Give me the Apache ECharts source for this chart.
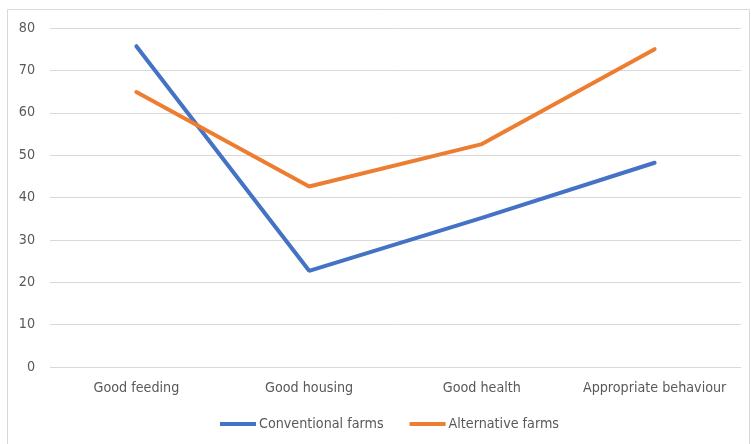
<!DOCTYPE html>
<html>
<head>
<meta charset="utf-8">
<script src="https://cdn.jsdelivr.net/npm/echarts@6/dist/echarts.min.js"></script>
<style>
  html, body { margin: 0; padding: 0; background: #fff; }
  #chart { width: 751px; height: 444px; }
</style>
</head>
<body>
<div id="chart"></div>
<script>
var categories = ['Good feeding', 'Good housing', 'Good health', 'Appropriate behaviour'];
var conventional = [75.7, 22.7, 35.2, 48.2];
var alternative = [64.9, 42.6, 52.6, 75.0];
var yTicks = { min: 0, max: 80, step: 10 };

var fontFam = '"Liberation Sans Narrow", "DejaVu Sans Condensed", sans-serif';

var myChart = echarts.init(document.getElementById('chart'));
var option = {
    backgroundColor: '#ffffff',
    animation: false,
    graphic: [{
        type: 'rect',
        shape: { x: 7.5, y: 9.5, width: 742, height: 440 },
        style: { fill: 'none', stroke: '#d9d9d9', lineWidth: 1 },
        silent: true
    }],
    grid: { left: 50, right: 10, top: 28, bottom: 77 },
    legend: {
        left: 215,
        top: 412,
        icon: 'rect',
        itemWidth: 36,
        itemHeight: 4,
        itemGap: 26,
        textStyle: { color: '#595959', fontSize: 14.2, fontFamily: fontFam, padding: [0, 0, 0, -2] },
        data: ['Conventional farms', 'Alternative farms']
    },
    xAxis: {
        type: 'category',
        data: categories,
        axisLine: { show: false },
        axisTick: { show: false },
        axisLabel: { color: '#595959', fontSize: 14.2, fontFamily: fontFam, margin: 14, interval: 0 }
    },
    yAxis: {
        type: 'value',
        min: yTicks.min,
        max: yTicks.max,
        interval: yTicks.step,
        axisLine: { show: false },
        axisTick: { show: false },
        axisLabel: { color: '#595959', fontSize: 14.2, fontFamily: fontFam, margin: 15 },
        splitLine: { lineStyle: { color: '#d9d9d9', width: 1 } }
    },
    series: [
        {
            name: 'Conventional farms',
            type: 'line',
            data: conventional,
            showSymbol: false,
            symbol: 'none',
            itemStyle: { color: '#4472C4' },
            lineStyle: { color: '#4472C4', width: 4, cap: 'round' }
        },
        {
            name: 'Alternative farms',
            type: 'line',
            data: alternative,
            showSymbol: false,
            symbol: 'none',
            itemStyle: { color: '#ED7D31' },
            lineStyle: { color: '#ED7D31', width: 4, cap: 'round' }
        }
    ]
};
myChart.setOption(option);
</script>
</body>
</html>
